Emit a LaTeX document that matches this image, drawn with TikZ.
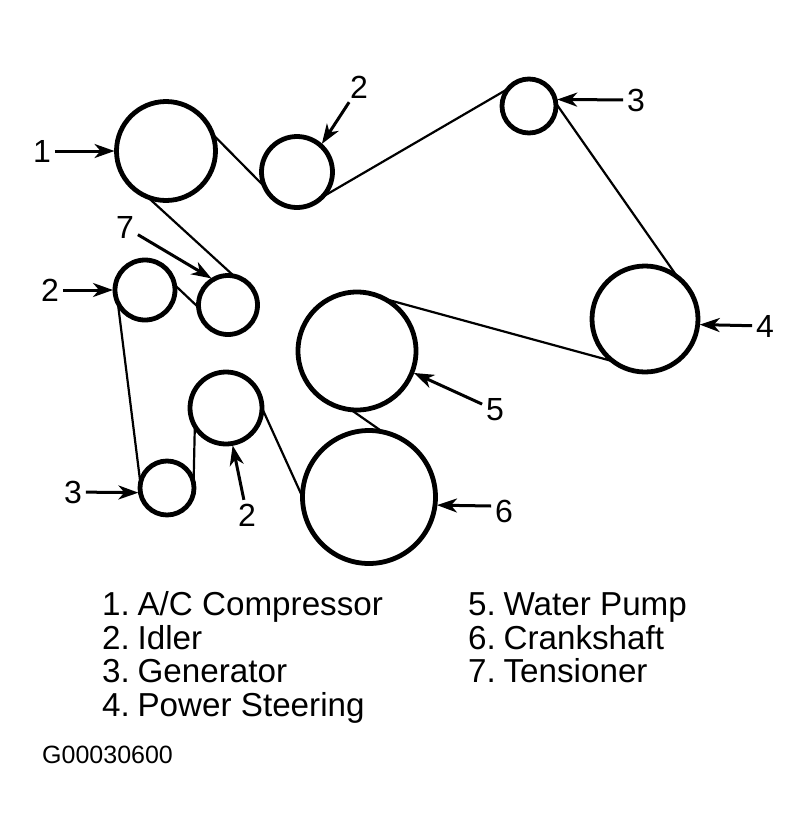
\documentclass[tikz,border=0pt]{standalone}
\usepackage{fontspec}
\setmainfont{Liberation Sans}
\newcommand{\itemno}[1]{#1.\kern-1.5pt\ }
\usetikzlibrary{arrows.meta, positioning}
\tikzset{
	pulley/.style={circle, draw, line width=4.8pt, inner sep=0pt, outer sep=0pt, minimum size=#1},
	callout/.style={font=\fontsize{32}{32}\selectfont, inner sep=0pt, outer sep=4pt},
	legend/.style={font=\fontsize{33.2}{33.2}\selectfont, inner sep=0pt, anchor=base west},
	belt/.style={line width=2.2pt},
	pointer/.style={-{Stealth[length=20pt, width=14pt, inset=6pt]}, line width=3pt, shorten >=2pt}
}
\begin{document}
\begin{tikzpicture}[x=1pt, y=-1pt]
	\useasboundingbox (0,0) rectangle (811,839);
	% pulleys
	\node[pulley=99pt] (compressor) at (166,151) {};
	\node[pulley=71pt] (idlertop) at (297,172) {};
	\node[pulley=54pt] (gentop) at (529,106) {};
	\node[pulley=106pt] (steering) at (645,319) {};
	\node[pulley=118pt] (pump) at (357,351) {};
	\node[pulley=133pt] (crank) at (369,497) {};
	\node[pulley=72pt] (idlerlow) at (226,408) {};
	\node[pulley=54pt] (genlow) at (167,488) {};
	\node[pulley=60pt] (idlerleft) at (145,290) {};
	\node[pulley=59pt] (tensioner) at (228,305) {};
	% belt
	\path[belt]
	(compressor.20) edge (idlertop.205)
	(idlertop.-45) edge (gentop.140)
	(gentop.6) edge (steering.52)
	(steering.233) edge (pump.62)
	(pump.-96) edge (crank.78)
	(crank.180) edge (idlerlow.0)
	(idlerlow.210) edge (genlow.10)
	(genlow.170) edge (idlerleft.205)
	(idlerleft.10) edge (tensioner.185)
	(tensioner.78) edge (compressor.-112)
	;
	% numbers
	\node[callout] (n1) at (42,151) {1};
	\node[callout] (n2a) at (359,87) {2};
	\node[callout] (n3a) at (636,100) {3};
	\node[callout] (n4) at (765,326) {4};
	\node[callout] (n5) at (495,410) {5};
	\node[callout] (n6) at (504,511) {6};
	\node[callout] (n2b) at (247,515) {2};
	\node[callout] (n3b) at (73,492) {3};
	\node[callout] (n2c) at (50,290) {2};
	\node[callout] (n7) at (125,227) {7};
	% arrows
	\draw[pointer] (n1) -- (compressor.180);
	\draw[pointer] (n2a) -- (idlertop.48);
	\draw[pointer] (n3a) -- (gentop.14);
	\draw[pointer] (n4) -- (steering.-6);
	\draw[pointer] (n5) -- (pump.-21);
	\draw[pointer] ([yshift=5pt]n6.west) -- (crank.-7);
	\draw[pointer] (n2b) -- (idlerlow.-80);
	\draw[pointer] (n3b) -- (genlow.190);
	\draw[pointer] (n2c) -- (idlerleft.180);
	\draw[pointer] (n7) -- (tensioner.120);
	% legend
	\node[legend] (l1) at (102,615) {\itemno{1}A/C Compressor};
	\node[legend] (l2) at (102,649) {\itemno{2}Idler};
	\node[legend] (l3) at (102,682) {\itemno{3}Generator};
	\node[legend] (l4) at (102,716) {\itemno{4}Power Steering};
	\node[legend] (l5) at (468,615) {\itemno{5}Water Pump};
	\node[legend] (l6) at (468,649) {\itemno{6}Crankshaft};
	\node[legend] (l7) at (468,682) {\itemno{7}Tensioner};
	\node[inner sep=0pt, anchor=base west, font=\fontsize{25}{25}\selectfont] (code) at (42,763) {G00030600};
\end{tikzpicture}
\end{document}
